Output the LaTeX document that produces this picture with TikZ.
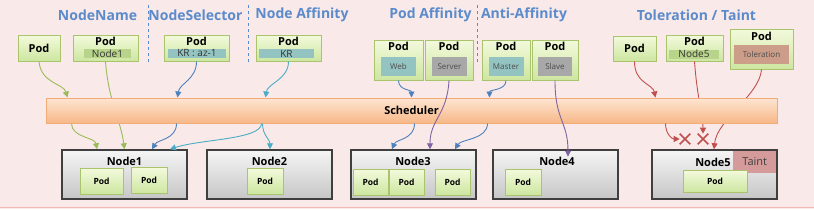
\documentclass[tikz,border=0pt]{standalone}
\usepackage{fontspec}
\setmainfont{Open Sans}
\usetikzlibrary{arrows.meta,shapes.misc}
\definecolor{bgpink}{HTML}{F9EAE9}
\definecolor{edgepink}{HTML}{F2B8B5}
\definecolor{headblue}{HTML}{5B8BCB}
\definecolor{podline}{HTML}{A9C46C}
\definecolor{podtop}{HTML}{F3FADC}
\definecolor{podbot}{HTML}{CDE6A0}
\definecolor{bandgreen}{HTML}{B7D48A}
\definecolor{bandteal}{HTML}{93C4C1}
\definecolor{bandgray}{HTML}{A8A8A8}
\definecolor{bandbrown}{HTML}{CC9D88}
\definecolor{taintred}{HTML}{D49B9A}
\definecolor{schedtop}{HTML}{FDE5D2}
\definecolor{schedbot}{HTML}{F7B888}
\definecolor{schedline}{HTML}{F2AC78}
\definecolor{hosttop}{HTML}{F5F5F5}
\definecolor{hostbot}{HTML}{C6C6C6}
\definecolor{hostline}{HTML}{3F3F3F}
\definecolor{olive}{HTML}{9BBB59}
\definecolor{steel}{HTML}{4F81BD}
\definecolor{aqua}{HTML}{4BACC6}
\definecolor{affpurple}{HTML}{8064A2}
\definecolor{tolred}{HTML}{C0504D}
\begin{document}
\begin{tikzpicture}[x=1pt, y=-1pt,
    title/.style={font=\fontsize{14}{16}\selectfont\bfseries, text=headblue},
    pod/.style={draw=podline, line width=1pt, top color=podtop, bottom color=podbot, inner sep=0pt},
    podtxt/.style={font=\fontsize{11}{13}\selectfont\bfseries, inner sep=0pt},
    band/.style={minimum height=9, inner sep=0pt, font=\fontsize{10}{11}\selectfont, text=black!80},
    inner/.style={minimum height=19, inner sep=0pt, font=\fontsize{8}{9}\selectfont, text=black!70},
    host/.style={draw=hostline, line width=1.5pt, top color=hosttop, bottom color=hostbot, minimum width=125, minimum height=49},
    hosttxt/.style={font=\fontsize{11}{12}\selectfont\bfseries, inner sep=0pt},
    slot/.style={pod, minimum width=36, minimum height=26, font=\fontsize{8.5}{9}\selectfont\bfseries},
    flow/.style={line width=0.9pt, -{Triangle[length=6pt, width=6pt]}},
    sep/.style={headblue, dashed, line width=0.8pt}
  ]
    \useasboundingbox (0,0) rectangle (814,209);
    \fill[bgpink] (0,0) rectangle (814,209);
    \draw[edgepink, line width=1.5pt] (0,207.5) -- (814,207.5);
    % headings
    \node[title] (hname) at (97.5,15) {NodeName};
    \node[title] (hsel) at (195.5,15) {NodeSelector};
    \node[title] (haff) at (302,15) {Node Affinity};
    \node[title] (hpod) at (430.5,15) {Pod Affinity};
    \node[title] (hanti) at (524,15) {Anti-Affinity};
    \node[title] (htol) at (696.5,15) {Toleration / Taint};
    \draw[sep] (148,5) -- (148,62);
    \draw[sep] (248,5) -- (248,62);
    \draw[sep] (477,5) -- (477,63);
    % pods to be placed
    \node[pod, minimum width=42, minimum height=26, podtxt] (pa) at (39,48) {Pod};
    \node[pod, minimum width=65, minimum height=26] (pb) at (105.5,48) {};
    \node[podtxt] (pbt) at (105.5,41.5) {Pod};
    \node[band, fill=bandgreen, minimum width=47] (pbb) at (107.5,53.5) {Node1};
    \node[pod, minimum width=65, minimum height=26] (pc) at (196.5,48) {};
    \node[podtxt] (pct) at (196.5,41.5) {Pod};
    \node[band, fill=bandteal, minimum width=58] (pcb) at (197,53.5) {KR : az-1};
    \node[pod, minimum width=65, minimum height=26] (pd) at (288.5,48) {};
    \node[podtxt] (pdt) at (288.5,41.5) {Pod};
    \node[band, fill=bandteal, minimum width=55] (pdb) at (286.5,53.5) {KR};
    \node[pod, minimum width=49, minimum height=40] (pweb) at (398.5,60) {};
    \node[podtxt] (pwebt) at (398.5,46) {Pod};
    \node[inner, fill=bandteal, minimum width=35] (pwebi) at (398.5,66.5) {Web};
    \node[pod, minimum width=48, minimum height=40] (pserver) at (449,60) {};
    \node[podtxt] (pservert) at (449,46) {Pod};
    \node[inner, fill=bandgray, minimum width=35] (pserveri) at (449.5,66.5) {Server};
    \node[pod, minimum width=48, minimum height=40] (pmaster) at (506,60) {};
    \node[podtxt] (pmastert) at (506,46) {Pod};
    \node[inner, fill=bandteal, minimum width=35] (pmasteri) at (506,66.5) {Master};
    \node[pod, minimum width=46, minimum height=40] (pslave) at (555,60) {};
    \node[podtxt] (pslavet) at (555,46) {Pod};
    \node[inner, fill=bandgray, minimum width=34] (pslavei) at (555,66.5) {Slave};
    \node[pod, minimum width=43, minimum height=25, podtxt] (pta) at (634.5,48.5) {Pod};
    \node[pod, minimum width=57, minimum height=26] (ptb) at (694.5,48) {};
    \node[podtxt] (ptbt) at (694.5,41.5) {Pod};
    \node[band, fill=bandgreen, minimum width=50] (ptbb) at (694,54) {Node5};
    \node[pod, minimum width=63, minimum height=40] (ptc) at (761.5,49) {};
    \node[podtxt] (ptct) at (761.5,36) {Pod};
    \node[inner, fill=bandbrown, minimum width=55] (ptci) at (761.5,54.5) {Toleration};
    % worker nodes
    \node[host] (n1) at (124.5,174.5) {};
    \node[hosttxt] (n1t) at (124.5,161) {Node1};
    \node[slot, minimum width=43] (n1a) at (101.5,181) {Pod};
    \node[slot] (n1b) at (149,180.5) {Pod};
    \node[host] (n2) at (269.5,174.5) {};
    \node[hosttxt] (n2t) at (269.5,161) {Node2};
    \node[slot] (n2a) at (265,181) {Pod};
    \node[host] (n3) at (413.5,174.5) {};
    \node[hosttxt] (n3t) at (413,161) {Node3};
    \node[slot, minimum width=35] (n3a) at (370.5,182) {Pod};
    \node[slot, minimum width=35] (n3b) at (406.5,182) {Pod};
    \node[slot, minimum width=35] (n3c) at (452.5,182) {Pod};
    \node[host] (n4) at (555.5,174.5) {};
    \node[hosttxt] (n4t) at (557,161) {Node4};
    \node[slot] (n4a) at (523,182) {Pod};
    \node[host] (n5) at (714.5,174.5) {};
    \node[fill=taintred, minimum width=43, minimum height=22, inner sep=0pt, font=\fontsize{11}{12}\selectfont, text=black!75] (taint) at (754.7,162) {Taint};
    \node[hosttxt] (n5t) at (713,162) {Node5};
    \node[slot, minimum width=64, minimum height=22] (n5a) at (715,181) {Pod};
    \node[cross out, draw=tolred, line width=1.6pt, minimum size=9, inner sep=0pt] (x1) at (685,139) {};
    \node[cross out, draw=tolred, line width=1.6pt, minimum size=9, inner sep=0pt] (x2) at (703,139) {};
    % lines behind the scheduler
    \draw[flow, olive] (pb.south) .. controls +(3,40) and +(-4,-30) .. (n1.north);
    \draw[flow, tolred] (ptb.south) .. controls +(3,40) and +(0,-20) .. (x2.north);
    \draw[flow, tolred] (ptc.south) .. controls +(-2,26) and +(3,-30) .. ([xshift=-0.5]n5.north);
    \node[draw=schedline, line width=1pt, top color=schedtop, bottom color=schedbot, minimum width=731, minimum height=25, font=\fontsize{11}{12}\selectfont\bfseries] (sched) at (411.5,110.5) {Scheduler};
    % NodeName / NodeSelector / Node Affinity
    \draw[flow, olive] (pa.south) .. controls +(2,22) and +(-4,-14) .. ([xshift=22]sched.north west);
    \draw[flow, olive] ([xshift=26]sched.south west) .. controls +(0,14) and +(-2,-12) .. ([xshift=-27.5]n1.north);
    \draw[flow, steel] (pc.south) .. controls +(0,18) and +(2,-14) .. ([xshift=132]sched.north west);
    \draw[flow, steel] ([xshift=131]sched.south west) .. controls +(0,16) and +(6,-10) .. ([xshift=27.5]n1.north);
    \draw[flow, aqua] (pd.south) .. controls +(0,18) and +(2,-14) .. ([xshift=220]sched.north west);
    \draw[flow, aqua] ([xshift=216]sched.south west) .. controls +(0,16) and +(30,-10) .. ([xshift=45.5]n1.north);
    \draw[flow, aqua] ([xshift=217]sched.south west) .. controls +(0,12) and +(0,-10) .. ([xshift=0.5]n2.north);
    % Pod Affinity / Anti-Affinity
    \draw[flow, steel] (pweb.south) .. controls +(0,10) and +(0,-8) .. ([xshift=366]sched.north west);
    \draw[flow, steel] ([xshift=369]sched.south west) .. controls +(0,16) and +(4,-10) .. ([xshift=-21.5]n3.north);
    \draw[flow, affpurple] (pserver.south) .. controls +(-2,35) and +(0,-30) .. ([xshift=16.5]n3.north);
    \draw[flow, steel] (pmaster.south) .. controls +(0,10) and +(0,-8) .. ([xshift=444]sched.north west);
    \draw[flow, steel] ([xshift=442]sched.south west) .. controls +(0,16) and +(6,-10) .. ([xshift=41.5]n3.north);
    \draw[flow, affpurple] (pslave.south) .. controls +(0,40) and +(0,-35) .. ([xshift=11]n4t.north);
    % Toleration / Taint
    \draw[flow, tolred] (pta.south) .. controls +(0,22) and +(-3,-14) .. ([xshift=-122]sched.north east);
    \draw[flow, tolred] ([xshift=-112]sched.south east) .. controls +(0,10) and +(-8,0) .. (x1.west);
  \end{tikzpicture}
\end{document}
